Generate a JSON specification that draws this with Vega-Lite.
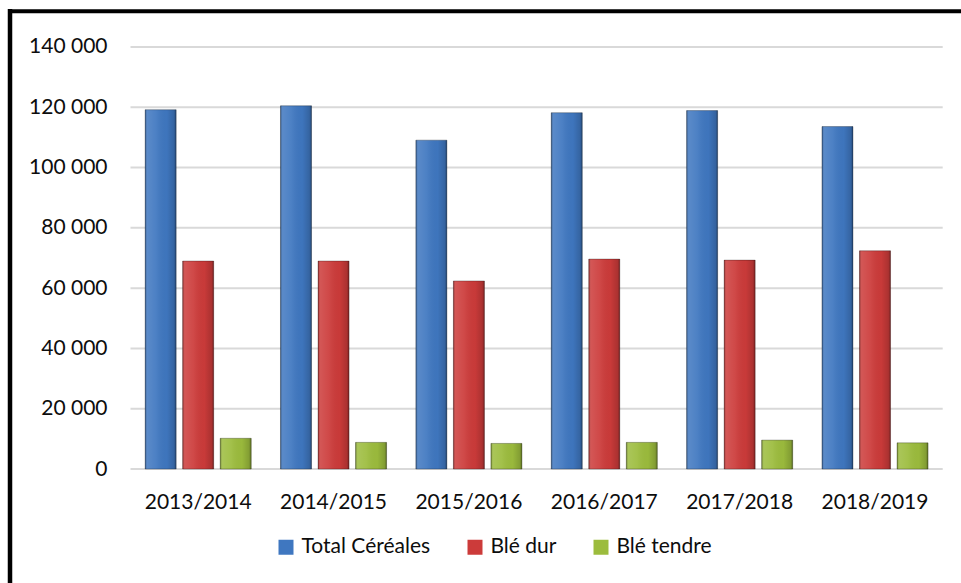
{
  "$schema": "https://vega.github.io/schema/vega-lite/v6.json",
  "width": 951.5,
  "height": 572.2,
  "autosize": {"type": "none"},
  "padding": {"left": 9.5, "top": 10.8, "right": 0, "bottom": 0},
  "background": "#ffffff",
  "config": {
    "locale": {"number": {"decimal": ",", "thousands": " ", "grouping": [3], "currency": ["", " €"]}},
    "view": {"stroke": null},
    "font": "Lato",
    "axis": {"labelFont": "Lato", "labelFontSize": 21, "labelColor": "#0d0d0d", "ticks": false, "tickSize": 0, "grid": false, "domainColor": "#000000", "domainCap": "square", "title": null}
  },
  "datasets": {
    "grid": [{"v": 0}, {"v": 20000}, {"v": 40000}, {"v": 60000}, {"v": 80000}, {"v": 100000}, {"v": 120000}, {"v": 140000}],
    "bars": [
      {"year": "2013/2014", "series": "Total Céréales", "value": 119200},
      {"year": "2013/2014", "series": "Blé dur", "value": 69000},
      {"year": "2013/2014", "series": "Blé tendre", "value": 10200},
      {"year": "2014/2015", "series": "Total Céréales", "value": 120500},
      {"year": "2014/2015", "series": "Blé dur", "value": 69000},
      {"year": "2014/2015", "series": "Blé tendre", "value": 8850},
      {"year": "2015/2016", "series": "Total Céréales", "value": 109100},
      {"year": "2015/2016", "series": "Blé dur", "value": 62400},
      {"year": "2015/2016", "series": "Blé tendre", "value": 8500},
      {"year": "2016/2017", "series": "Total Céréales", "value": 118200},
      {"year": "2016/2017", "series": "Blé dur", "value": 69650},
      {"year": "2016/2017", "series": "Blé tendre", "value": 8850},
      {"year": "2017/2018", "series": "Total Céréales", "value": 118900},
      {"year": "2017/2018", "series": "Blé dur", "value": 69300},
      {"year": "2017/2018", "series": "Blé tendre", "value": 9600},
      {"year": "2018/2019", "series": "Total Céréales", "value": 113600},
      {"year": "2018/2019", "series": "Blé dur", "value": 72400},
      {"year": "2018/2019", "series": "Blé tendre", "value": 8700}
    ]
  },
  "layer": [
    {
      "data": {"name": "grid"},
      "mark": {"type": "rule", "stroke": "#d9d9d9", "strokeWidth": 2},
      "encoding": {
        "y": {"field": "v", "type": "quantitative",
              "scale": {"domain": [-37800, 152000], "nice": false, "zero": false},
              "axis": {"orient": "left", "values": [0, 20000, 40000, 60000, 80000, 100000, 120000, 140000], "format": ",d", "labelPadding": -97.5, "labelAlign": "right", "domain": true, "domainWidth": 4.5, "title": null}},
        "x": {"datum": "2013/2014", "bandPosition": 0, "type": "nominal",
              "scale": {"domain": ["2013/2014", "2014/2015", "2015/2016", "2016/2017", "2017/2018", "2018/2019"], "paddingInner": 0, "paddingOuter": 0.5145, "align": 0.8686},
              "axis": {"orient": "top", "labelPadding": -497.7, "labelBaseline": "alphabetic", "labelAngle": 0, "domain": true, "domainWidth": 4, "title": null}},
        "x2": {"datum": "2018/2019", "bandPosition": 1}
      }
    },
    {
      "data": {"name": "bars"},
      "mark": {"type": "bar"},
      "encoding": {
        "x": {"field": "year", "type": "nominal"},
        "xOffset": {"field": "series", "type": "nominal", "scale": {"domain": ["Total Céréales", "Blé dur", "Blé tendre"], "paddingInner": 0.173, "paddingOuter": 0.39}},
        "y": {"field": "value", "type": "quantitative"},
        "y2": {"datum": 0},
        "color": {"field": "series", "type": "nominal",
                  "scale": {"domain": ["Total Céréales", "Blé dur", "Blé tendre"], "range": ["#3f77c0", "#cc3b3a", "#9cbc3d"]},
                  "legend": {"orient": "none", "legendX": 266, "legendY": 525.7, "direction": "horizontal", "title": null, "symbolType": "square", "symbolSize": 225, "symbolStrokeWidth": 0, "symbolOpacity": 1, "labelFont": "Lato", "labelFontSize": 21, "labelColor": "#0d0d0d", "labelOffset": 5, "columnPadding": 34, "padding": 0}}
      }
    },
    {
      "data": {"name": "bars"},
      "mark": {"type": "bar", "stroke": "rgba(0,0,0,0.28)", "strokeWidth": 1, "fill": {"gradient": "linear", "x1": 0, "y1": 0, "x2": 1, "y2": 0, "stops": [
        {"offset": 0, "color": "rgba(0,0,0,0.35)"},
        {"offset": 0.07, "color": "rgba(255,255,255,0.14)"},
        {"offset": 0.35, "color": "rgba(255,255,255,0.07)"},
        {"offset": 0.7, "color": "rgba(0,0,0,0.02)"},
        {"offset": 0.93, "color": "rgba(0,0,0,0.16)"},
        {"offset": 1, "color": "rgba(0,0,0,0.42)"}
      ]}},
      "encoding": {
        "x": {"field": "year", "type": "nominal"},
        "xOffset": {"field": "series", "type": "nominal"},
        "y": {"field": "value", "type": "quantitative"},
        "y2": {"datum": 0}
      }
    }
  ]
}
